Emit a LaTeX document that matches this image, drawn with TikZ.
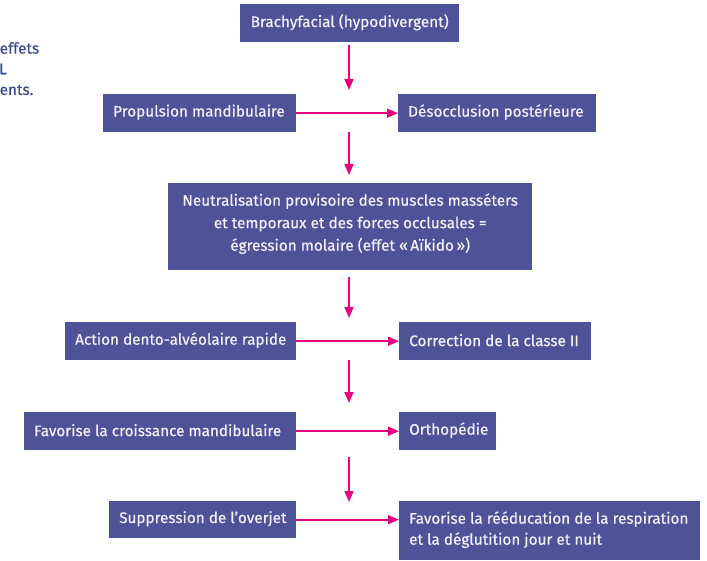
\documentclass[tikz,border=0pt]{standalone}
\usepackage{fontspec}
\setmainfont{Fira Sans}
\newfontfamily\boxfont{Fira Sans}[FakeBold=0.5]
\usetikzlibrary{arrows.meta}
\definecolor{boxc}{HTML}{4E5398}
\definecolor{arrc}{HTML}{E6007E}
\definecolor{txtc}{HTML}{F2F0F8}
\definecolor{sidec}{HTML}{3A4A8C}
\tikzset{
  boxnode/.style={fill=boxc, inner sep=0pt, anchor=north west},
  boxtxt/.style={text=txtc, inner sep=0pt, font=\boxfont\fontsize{15.3}{22.5}\selectfont},
  lefttxt/.style={boxtxt, anchor=west, align=left},
  flow/.style={draw=arrc, line width=1.6pt, -{Triangle[length=11pt,width=9pt]}},
  sidetxt/.style={text=sidec, font=\boxfont\fontsize{15.3}{16}\selectfont, anchor=west, inner sep=0pt}
}
\begin{document}
\begin{tikzpicture}[x=1pt,y=-1pt]
\useasboundingbox (0,0) rectangle (707,561);
% side text (cut off from page)
\node[sidetxt] (s1) at (-0.5,48) {effets};
\node[sidetxt] (s2) at (-1,69) {L};
\node[sidetxt] (s3) at (-0.5,90) {ents.};
% boxes
\node[boxnode, minimum width=219pt, minimum height=38pt] (b1) at (240,4) {};
\node[boxtxt] (b1t) at ([yshift=1pt]b1.center) {Brachyfacial (hypodivergent)};
\node[boxnode, minimum width=193pt, minimum height=38pt] (b2) at (103,94) {};
\node[lefttxt] (b2t) at ([xshift=10pt,yshift=1pt]b2.west) {Propulsion mandibulaire};
\node[boxnode, minimum width=198pt, minimum height=38pt] (b3) at (398,94) {};
\node[lefttxt] (b3t) at ([xshift=10pt,yshift=1pt]b3.west) {Désocclusion postérieure};
\node[boxnode, minimum width=364pt, minimum height=87pt] (b4) at (168,183) {};
\node[boxtxt, align=center] (b4t) at ([yshift=3pt]b4.center) {Neutralisation provisoire des muscles masséters\\et temporaux et des forces occlusales =\\égression molaire (effet «\,Aïkido\,»)};
\node[boxnode, minimum width=231pt, minimum height=38pt] (b5) at (65,322) {};
\node[lefttxt] (b5t) at ([xshift=10pt,yshift=1pt]b5.west) {Action dento-alvéolaire rapide};
\node[boxnode, minimum width=192pt, minimum height=38pt] (b6) at (399,322) {};
\node[lefttxt] (b6t) at ([xshift=10pt,yshift=1pt]b6.west) {Correction de la classe II};
\node[boxnode, minimum width=272pt, minimum height=38pt] (b7) at (24,412) {};
\node[lefttxt] (b7t) at ([xshift=10pt,yshift=1pt]b7.west) {Favorise la croissance mandibulaire};
\node[boxnode, minimum width=97pt, minimum height=38pt] (b8) at (399,412) {};
\node[lefttxt] (b8t) at ([xshift=10pt,yshift=1pt]b8.west) {Orthopédie};
\node[boxnode, minimum width=187pt, minimum height=37pt] (b9) at (109,501) {};
\node[lefttxt] (b9t) at ([xshift=10pt,yshift=1pt]b9.west) {Suppression de l’overjet};
\node[boxnode, minimum width=301pt, minimum height=59pt] (b10) at (399,501) {};
\node[lefttxt, font=\boxfont\fontsize{15.3}{21}\selectfont] (b10t) at ([xshift=10pt,yshift=1pt]b10.west) {Favorise la rééducation de la respiration\\et la déglutition jour et nuit};
% free ends of vertical arrows
\coordinate (v1s) at (349,45);  \coordinate (v1e) at (349,90);
\coordinate (v2s) at (349,132); \coordinate (v2e) at (349,175);
\coordinate (v3s) at (349,277); \coordinate (v3e) at (349,318);
\coordinate (v4s) at (349,360); \coordinate (v4e) at (349,403);
\coordinate (v5s) at (349,457); \coordinate (v5e) at (349,502);
\draw[flow] (v1s) -- (v1e);
\draw[flow] (v2s) -- (v2e);
\draw[flow] (v3s) -- (v3e);
\draw[flow] (v4s) -- (v4e);
\draw[flow] (v5s) -- (v5e);
% horizontal arrows
\draw[flow] (b2.east) -- (b3.west);
\draw[flow] (b5.east) -- (b6.west);
\draw[flow] (b7.east) -- (b8.west);
\draw[flow] (b9.east) -- (b10.west |- b9.east);
\end{tikzpicture}
\end{document}
